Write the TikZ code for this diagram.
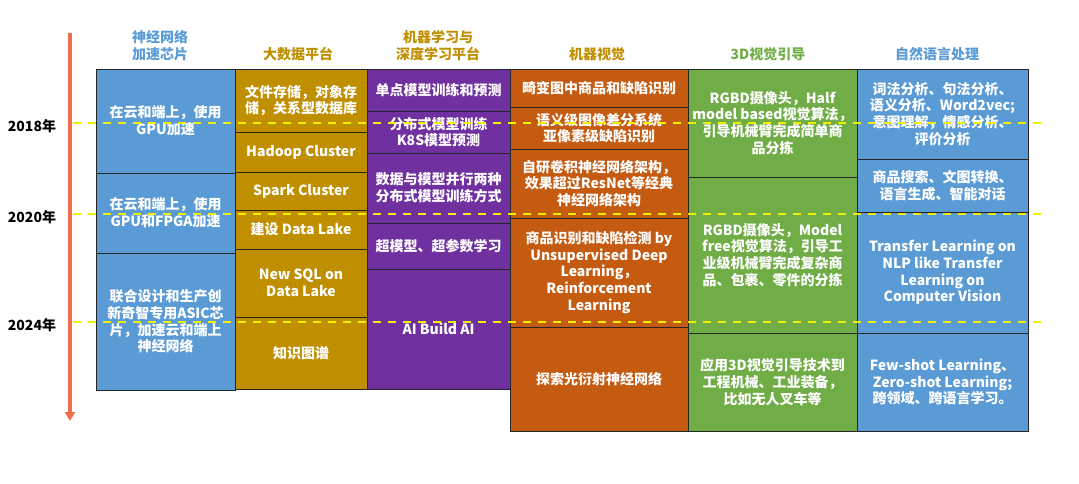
\documentclass[tikz,border=0pt]{standalone}
\usepackage{fontspec}
\setmainfont{Noto Sans CJK SC}
\usetikzlibrary{arrows.meta}
\definecolor{chipBlue}{HTML}{5B9BD5}
\definecolor{dataGold}{HTML}{BF8F00}
\definecolor{mlPurple}{HTML}{7030A0}
\definecolor{visOrange}{HTML}{C55A11}
\definecolor{guideGreen}{HTML}{70AD47}
\definecolor{axisRed}{HTML}{EE6F4F}
\definecolor{markYellow}{HTML}{F0F000}

\begin{document}
\begin{tikzpicture}[x=1pt,y=-1pt,
    every node/.style={font=\fontsize{14}{16.7}\selectfont\bfseries},
    cell/.style={draw=black!85,line width=0.9pt,text=white,align=center,inner sep=0pt},
    head/.style={align=center,anchor=south,inner sep=0pt},
    yearline/.style={markYellow,line width=1.6pt,dash pattern=on 8pt off 7pt}]
      \useasboundingbox (0,0) rectangle (1079,483);
      \coordinate (tstart) at (70,33);
      \coordinate (tend) at (70,421);
      \draw[axisRed,line width=3.2pt,-{Triangle[width=10pt,length=9pt]}] (tstart)--(tend);
      \foreach \x/\col/\t [count=\i] in {%
        160/chipBlue/{神经网络\\加速芯片},
        298/dataGold/大数据平台,
        438/dataGold/{机器学习与\\深度学习平台},
        597/dataGold/机器视觉,
        768/guideGreen/3D视觉引导,
        937/chipBlue/自然语言处理}{%
        \node[head,text=\col] (head\i) at (\x,61) {\t};
      }
      \foreach \xl/\xr/\yt/\yb/\col/\t [count=\i] in {%
        96/235/69/173/chipBlue/{在云和端上，使用\\GPU加速},
        96/235/173/253/chipBlue/{在云和端上，使用\\GPU和FPGA加速},
        96/235/253/390/chipBlue/{联合设计和生产创\\新奇智专用ASIC芯\\片，加速云和端上\\神经网络},
        235/367/69/132/dataGold/{文件存储，对象存\\储，关系型数据库},
        235/367/132/172/dataGold/{Hadoop Cluster},
        235/367/172/210/dataGold/{Spark Cluster},
        235/367/210/249/dataGold/{建设 Data Lake},
        235/367/249/317/dataGold/{New SQL on\\Data Lake},
        235/367/317/389/dataGold/{知识图谱},
        367/510/69/111/mlPurple/{单点模型训练和预测},
        367/510/111/153/mlPurple/{分布式模型训练\\K8S模型预测},
        367/510/153/223/mlPurple/{数据与模型并行两种\\分布式模型训练方式},
        367/510/223/269/mlPurple/{超模型、超参数学习},
        367/510/269/389/mlPurple/{AI Build AI},
        510/688/69/107/visOrange/{畸变图中商品和缺陷识别},
        510/688/107/149/visOrange/{语义级图像差分系统\\亚像素级缺陷识别},
        510/688/149/218/visOrange/{自研卷积神经网络架构，\\效果超过ResNet等经典\\神经网络架构},
        510/688/218/327/visOrange/{商品识别和缺陷检测 by\\Unsupervised Deep\\Learning，\\Reinforcement\\Learning},
        510/688/327/431/visOrange/{探索光衍射神经网络},
        688/857/69/177/guideGreen/{RGBD摄像头，Half\\model based视觉算法，\\引导机械臂完成简单商\\品分拣},
        688/857/177/333/guideGreen/{RGBD摄像头，Model\\free视觉算法，引导工\\业级机械臂完成复杂商\\品、包裹、零件的分拣},
        688/857/333/431/guideGreen/{应用3D视觉引导技术到\\工程机械、工业装备，\\比如无人叉车等},
        857/1028/69/159/chipBlue/{词法分析、句法分析、\\语义分析、Word2vec;\\意图理解，情感分析、\\评价分析},
        857/1028/159/212/chipBlue/{商品搜索、文图转换、\\语言生成、智能对话},
        857/1028/212/333/chipBlue/{Transfer Learning on\\NLP like Transfer\\Learning on\\Computer Vision},
        857/1028/333/431/chipBlue/{Few-shot Learning、\\Zero-shot Learning;\\跨领域、跨语言学习。}}{%
        \node[cell,fill=\col,minimum width={(\xr-\xl)*1pt},minimum height={(\yb-\yt)*1pt}]
          (cell\i) at ({(\xl+\xr)/2},{(\yt+\yb)/2}) {\t};
      }
      \foreach \y/\yr [count=\i] in {123/2018,214/2020,322/2024}{%
        \coordinate (mark\i-l) at (73,\y);
        \coordinate (mark\i-r) at (1042,\y);
        \node (year\i) at (32,\y+3) {\yr 年};
        \draw[yearline] (mark\i-l)--(mark\i-r);
      }
    \end{tikzpicture}
\end{document}
